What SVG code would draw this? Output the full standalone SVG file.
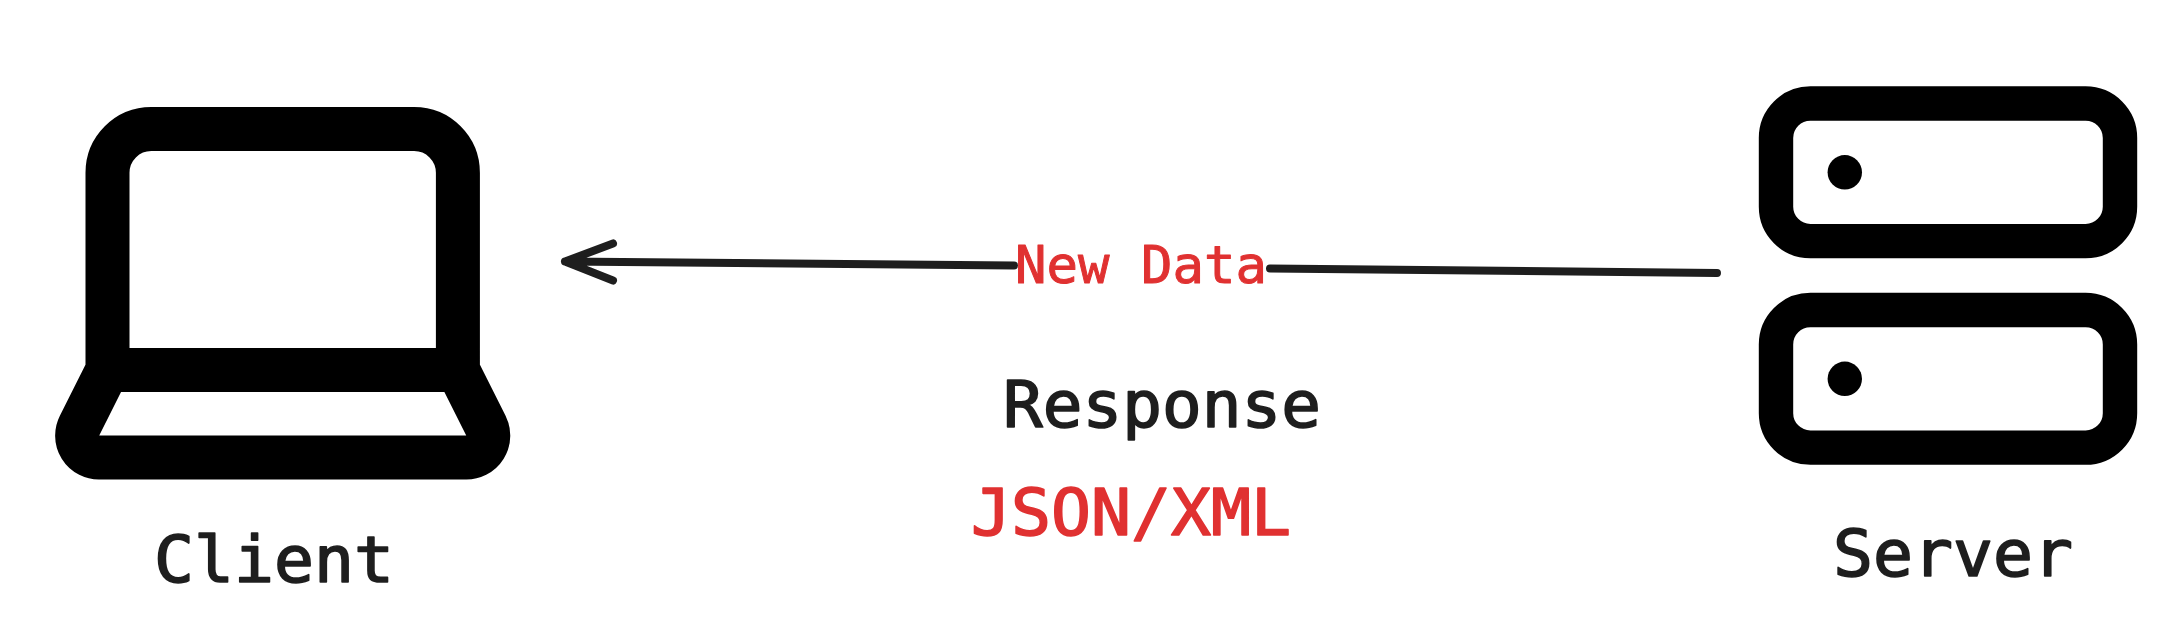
<svg xmlns="http://www.w3.org/2000/svg" width="2174" height="627" viewBox="0 0 2174 627">
<style>
.laptop{fill:none;stroke:#000;stroke-width:44;stroke-linecap:round;stroke-linejoin:round}
.rack{fill:none;stroke:#000;stroke-width:34.4}
.dot{fill:#000}
.conn{fill:none;stroke:#1e1e1e;stroke-width:8;stroke-linecap:round;stroke-linejoin:round}
text{font-family:"DejaVu Sans Mono","Liberation Mono",monospace;font-size:64px;fill:#1e1e1e;stroke:#1e1e1e;stroke-width:1.6px;stroke-linejoin:round}
text.red{fill:#e03131;stroke:#e03131}
</style>
<rect width="2174" height="627" fill="#fff"/>
<g id="connectors">
<path class="conn" d="M1014 265.500L565 261.500M613 243.500L565 261.500L613 280.500M1270 268.500L1717 273"/>
</g>
<g id="client">
<path class="laptop" d="M457.900 369.900V172.800A43.800 43.800 0 0 0 414.100 129H151.300A43.800 43.800 0 0 0 107.500 172.800V369.900M457.900 369.900H107.500M457.900 369.900L485.900 425.700A21.900 21.900 0 0 1 466.200 457.500H99.200A21.900 21.900 0 0 1 79.500 425.700L107.500 369.900"/>
<text x="154" y="582" textLength="240" lengthAdjust="spacingAndGlyphs">Client</text>
</g>
<g id="server">
<rect class="rack" x="1776" y="103.500" width="344" height="137.600" rx="34.400" ry="34.400"/>
<rect class="rack" x="1776" y="310" width="344" height="137.600" rx="34.400" ry="34.400"/>
<circle class="dot" cx="1844.800" cy="172.300" r="17.200"/>
<circle class="dot" cx="1844.800" cy="378.800" r="17.200"/>
<text x="1833" y="576" textLength="240" lengthAdjust="spacingAndGlyphs">Server</text>
</g>
<text id="new-data" class="red" x="1015" y="283" style="font-size:52px;stroke-width:1px" textLength="252" lengthAdjust="spacingAndGlyphs">New Data</text>
<text id="response" x="1003" y="427" textLength="318" lengthAdjust="spacingAndGlyphs">Response</text>
<text id="format" class="red" x="971" y="535" textLength="320" lengthAdjust="spacingAndGlyphs">JSON/XML</text>
</svg>
